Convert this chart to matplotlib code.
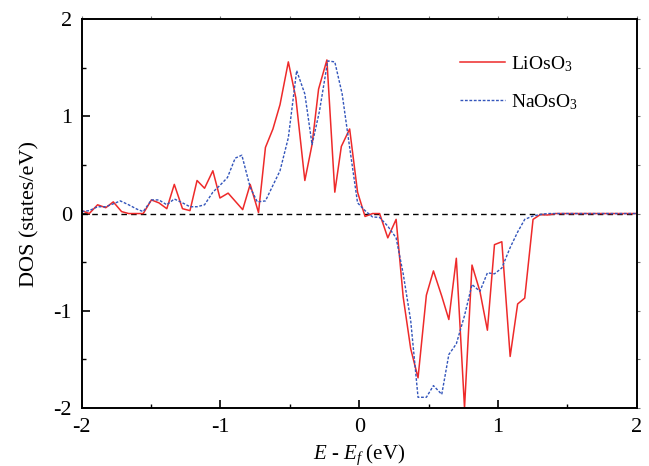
import matplotlib
matplotlib.use('Agg')
import matplotlib.pyplot as plt
from matplotlib.ticker import MultipleLocator

# LiOsO3 DOS
li_e = [-2.0, -1.946, -1.886, -1.827, -1.773, -1.713, -1.662, -1.557, -1.498, -1.444,
        -1.387, -1.333, -1.274, -1.22, -1.169, -1.115, -1.055, -1.004, -0.945, -0.84,
        -0.786, -0.726, -0.676, -0.622, -0.571, -0.511, -0.457, -0.392, -0.34, -0.293,
        -0.233, -0.176, -0.129, -0.069, -0.012, 0.042, 0.096, 0.147, 0.206, 0.266,
        0.317, 0.371, 0.424, 0.484, 0.535, 0.595, 0.646, 0.70, 0.759, 0.813,
        0.870, 0.924, 0.975, 1.028, 1.088, 1.142, 1.193, 1.253, 1.306, 1.357,
        1.417, 2.0]
li_dos = [0.03, 0.0, 0.09, 0.06, 0.12, 0.02, 0.0, 0.0, 0.14, 0.11,
          0.05, 0.30, 0.05, 0.03, 0.34, 0.26, 0.44, 0.16, 0.21, 0.04,
          0.30, 0.01, 0.68, 0.87, 1.12, 1.56, 1.19, 0.34, 0.71, 1.28,
          1.58, 0.22, 0.69, 0.87, 0.22, -0.03, 0.0, 0.0, -0.25, -0.06,
          -0.86, -1.39, -1.69, -0.84, -0.59, -0.85, -1.09, -0.46, -2.0, -0.53,
          -0.80, -1.20, -0.32, -0.29, -1.47, -0.93, -0.87, -0.06, -0.01, -0.015,
          0.0, 0.0]

# NaOsO3 DOS
na_e = [-2.0, -1.946, -1.886, -1.827, -1.773, -1.722, -1.662, -1.602, -1.557, -1.498,
        -1.444, -1.387, -1.333, -1.274, -1.22, -1.169, -1.115, -1.055, -1.004, -0.95,
        -0.894, -0.846, -0.786, -0.735, -0.676, -0.622, -0.571, -0.511, -0.451, -0.392,
        -0.34, -0.287, -0.227, -0.176, -0.123, -0.069, -0.012, 0.042, 0.096, 0.147,
        0.206, 0.266, 0.317, 0.371, 0.424, 0.484, 0.535, 0.595, 0.646, 0.70,
        0.759, 0.813, 0.870, 0.924, 0.975, 1.028, 1.088, 1.142, 1.193, 1.253,
        1.306, 1.357, 2.0]
na_dos = [0.02, 0.03, 0.07, 0.07, 0.10, 0.13, 0.09, 0.045, 0.02, 0.14,
          0.14, 0.09, 0.15, 0.11, 0.07, 0.07, 0.09, 0.22, 0.29, 0.37,
          0.57, 0.60, 0.27, 0.12, 0.13, 0.29, 0.44, 0.78, 1.47, 1.23,
          0.71, 1.05, 1.57, 1.56, 1.23, 0.68, 0.11, 0.03, -0.035, -0.04,
          -0.13, -0.25, -0.62, -1.10, -1.89, -1.89, -1.77, -1.86, -1.45, -1.34,
          -1.05, -0.73, -0.80, -0.61, -0.62, -0.56, -0.35, -0.19, -0.06, -0.025,
          -0.01, 0.0, 0.0]

plt.rcParams['font.family'] = 'Liberation Serif'
plt.rcParams['mathtext.fontset'] = 'custom'
plt.rcParams['mathtext.rm'] = 'Liberation Serif'
plt.rcParams['mathtext.it'] = 'Liberation Serif:italic'
plt.rcParams['axes.unicode_minus'] = False

fig = plt.figure(figsize=(6.49, 4.66), dpi=100)
ax = fig.add_axes([0.126, 0.1245, 0.855, 0.8345])

ax.axhline(0, color='black', linestyle=(0, (4, 3)), linewidth=1.0, zorder=1)
ax.plot(li_e, li_dos, color='#ee2a2a', linewidth=1.1, label='LiOsO$_3$')
ax.plot(na_e, na_dos, color='#3355bb', linewidth=1.0, linestyle=(0, (2, 1.2)), label='NaOsO$_3$')

ax.set_xlim(-2, 2)
ax.set_ylim(-2, 2)
ax.xaxis.set_major_locator(MultipleLocator(1))
ax.xaxis.set_minor_locator(MultipleLocator(0.5))
ax.yaxis.set_major_locator(MultipleLocator(1))
ax.yaxis.set_minor_locator(MultipleLocator(0.5))
ax.tick_params(which='both', direction='in', labelsize=16, pad=7)
ax.tick_params(which='major', length=6, width=1.2)
ax.tick_params(which='minor', length=3, width=1.0)
for s in ax.spines.values():
    s.set_linewidth(1.4)

# faint short ticks on the top and right edges
top = ax.secondary_xaxis('top')
top.xaxis.set_major_locator(MultipleLocator(0.5))
top.tick_params(direction='out', length=2, width=0.8, colors='#777777', labeltop=False)
right = ax.secondary_yaxis('right')
right.yaxis.set_major_locator(MultipleLocator(0.5))
right.tick_params(direction='out', length=2, width=0.8, colors='#777777', labelright=False)
top.spines['top'].set_visible(False)
right.spines['right'].set_visible(False)

ax.set_xlabel('$E$ - $E_f$ (eV)', fontsize=15, labelpad=4)
ax.set_ylabel('DOS (states/eV)', fontsize=16, labelpad=10)

ax.legend(loc='upper left', bbox_to_anchor=(0.65, 0.955), frameon=False, fontsize=14,
          labelspacing=0.95, handlelength=2.3, handletextpad=0.3)

fig.savefig('out.png', dpi=100)
